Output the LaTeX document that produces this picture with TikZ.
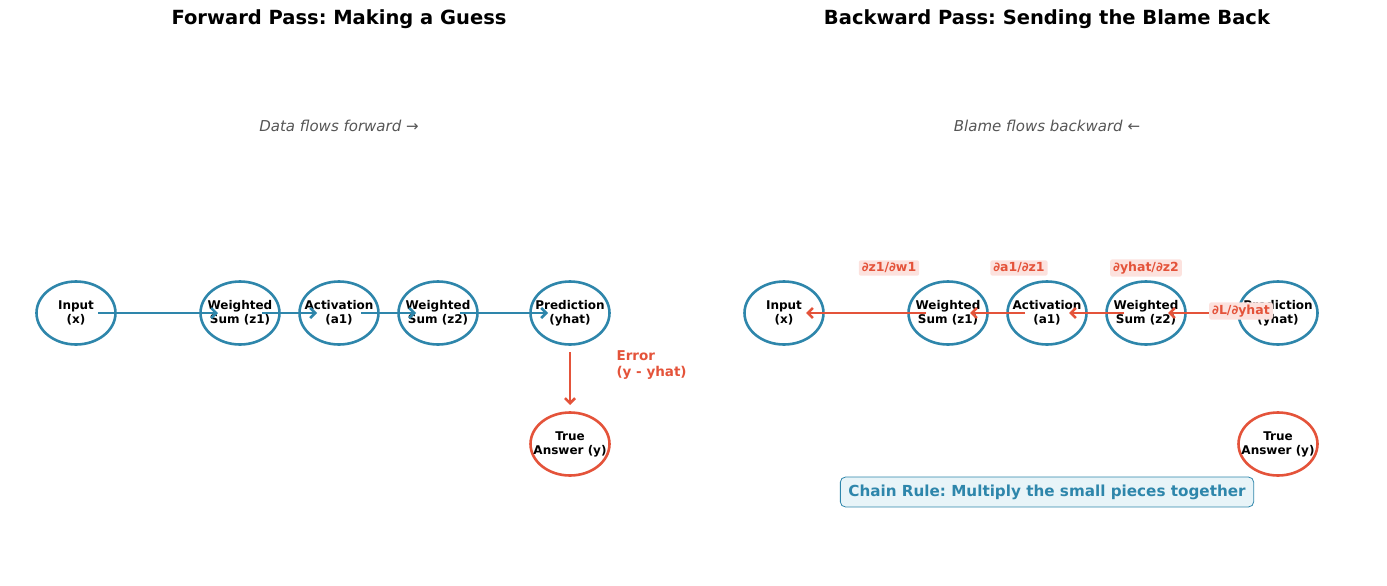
\documentclass[tikz,border=0pt]{standalone}
\usepackage{fontspec}
\setmainfont{DejaVu Sans}
\usetikzlibrary{shapes.geometric,arrows.meta}
\definecolor{netblue}{HTML}{2E86AB}
\definecolor{errred}{HTML}{E4533A}
\definecolor{notegray}{HTML}{555555}
\definecolor{chainfill}{HTML}{E8F4F8}
\definecolor{partfill}{HTML}{FCE2DE}
\tikzset{
  unit/.style={ellipse,draw=netblue,line width=2.6pt,fill=white,minimum width=79pt,
    minimum height=63pt,inner xsep=-10pt,inner ysep=0pt,align=center,
    font=\fontsize{12}{14}\selectfont\bfseries},
  truth/.style={unit,draw=errred},
  fwd/.style={draw=netblue,line width=2.6pt,-{Straight Barb[length=5pt,width=10pt]},
    shorten <=22pt,shorten >=22pt},
  bwd/.style={fwd,draw=errred},
  partial/.style={fill=partfill,text=errred,font=\fontsize{12.5}{14}\selectfont\bfseries,
    inner xsep=3pt,inner ysep=2.5pt,rounded corners=2pt},
  heading/.style={font=\fontsize{19.5}{23}\selectfont\bfseries},
  flownote/.style={text=notegray,font=\fontsize{15}{18}\selectfont\itshape},
}
\frenchspacing
\begin{document}
\begin{tikzpicture}[x=1pt,y=-1pt]
    \useasboundingbox (0,0) rectangle (1387,586);
    % forward pass
    \node[heading] (fwdtitle) at (339,19) {Forward Pass: Making a Guess};
    \node[flownote] (fwdnote) at (339,126) {Data flows forward →};
    \node[unit] (fx) at (76,313) {Input\\(x)};
    \node[unit] (fz1) at (240,313) {Weighted\\Sum (z1)};
    \node[unit] (fa1) at (339,313) {Activation\\(a1)};
    \node[unit] (fz2) at (438,313) {Weighted\\Sum (z2)};
    \node[unit] (fyhat) at (570,313) {Prediction\\(yhat)};
    \node[truth] (fy) at (570,444) {True\\Answer (y)};
    \draw[fwd] (fx.center) -- (fz1.center);
    \draw[fwd] (fz1.center) -- (fa1.center);
    \draw[fwd] (fa1.center) -- (fz2.center);
    \draw[fwd] (fz2.center) -- (fyhat.center);
    \draw[bwd,shorten <=39pt,shorten >=39pt] (fyhat.center) -- (fy.center);
    \node[anchor=west,align=left,text=errred,font=\fontsize{13.5}{16}\selectfont\bfseries]
        (errlabel) at (613,365) {Error\\(y - yhat)};
    % backward pass
    \node[heading] (bwdtitle) at (1047,19) {Backward Pass: Sending the Blame Back};
    \node[flownote] (bwdnote) at (1047,126) {Blame flows backward ←};
    \node[unit] (bx) at (784,313) {Input\\(x)};
    \node[unit] (bz1) at (948,313) {Weighted\\Sum (z1)};
    \node[unit] (ba1) at (1047,313) {Activation\\(a1)};
    \node[unit] (bz2) at (1146,313) {Weighted\\Sum (z2)};
    \node[unit] (byhat) at (1278,313) {Prediction\\(yhat)};
    \node[truth] (by) at (1278,444) {True\\Answer (y)};
    \draw[bwd] (bz1.center) -- (bx.center);
    \draw[bwd] (ba1.center) -- (bz1.center);
    \draw[bwd] (bz2.center) -- (ba1.center);
    \draw[bwd] (byhat.center) -- (bz2.center);
    \node[partial] (dz1w1) at (889,268) {∂z1/∂w1};
    \node[partial] (da1z1) at (1019,268) {∂a1/∂z1};
    \node[partial] (dyhatz2) at (1146,268) {∂yhat/∂z2};
    \node[partial] (dlyhat) at (1241,311) {∂L/∂yhat};
    \node[draw=netblue,fill=chainfill,rounded corners=5pt,line width=0.8pt,text=netblue,
        font=\fontsize{15.2}{18}\selectfont\bfseries,inner xsep=8pt,inner ysep=7.5pt]
        (chainrule) at (1047,492) {Chain Rule: Multiply the small pieces together};
\end{tikzpicture}
\end{document}
